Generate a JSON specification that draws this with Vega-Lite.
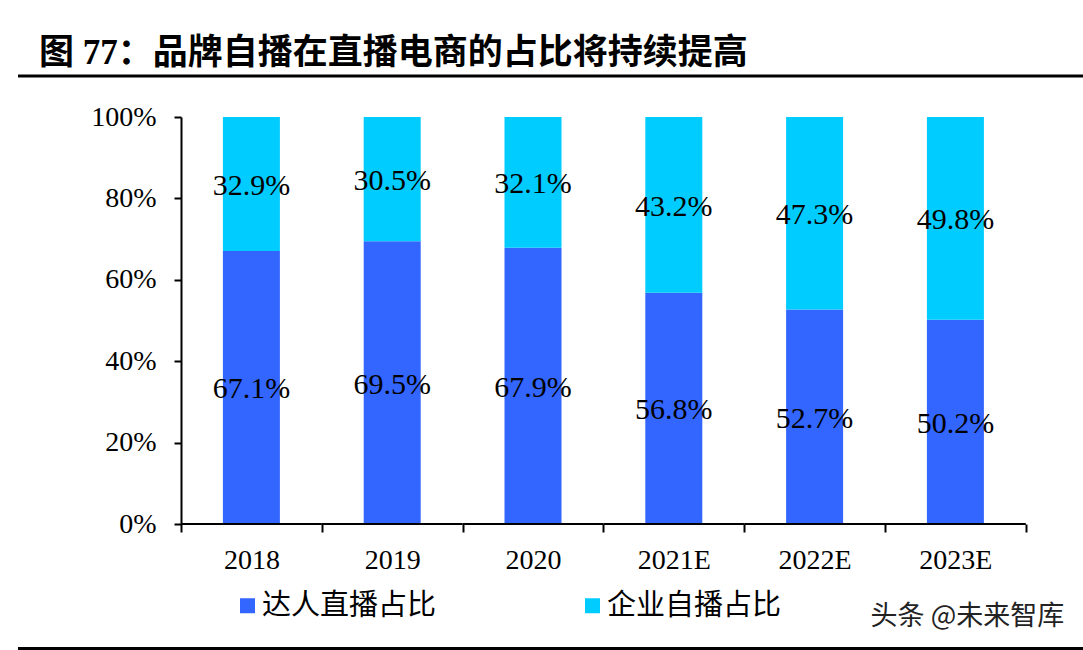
{
  "$schema": "https://vega.github.io/schema/vega-lite/v6.json",
  "width": 1067,
  "height": 407,
  "padding": {"left": 16, "top": 36, "right": 0, "bottom": 0},
  "autosize": {"type": "pad"},
  "background": "white",
  "config": {"view": {"stroke": null}, "font": "Liberation Serif"},
  "title": {
    "text": "图 77：品牌自播在直播电商的占比将持续提高",
    "anchor": "start",
    "frame": "group",
    "dx": 21,
    "font": "Liberation Serif, Noto Sans CJK SC",
    "fontSize": 35,
    "fontWeight": "bold",
    "color": "black",
    "offset": 3
  },
  "datasets": {
    "shares": [
      {"year": "2018", "series": "达人直播占比", "k": 1, "p": 0.671},
      {"year": "2018", "series": "企业自播占比", "k": 2, "p": 0.329},
      {"year": "2019", "series": "达人直播占比", "k": 1, "p": 0.695},
      {"year": "2019", "series": "企业自播占比", "k": 2, "p": 0.305},
      {"year": "2020", "series": "达人直播占比", "k": 1, "p": 0.679},
      {"year": "2020", "series": "企业自播占比", "k": 2, "p": 0.321},
      {"year": "2021E", "series": "达人直播占比", "k": 1, "p": 0.568},
      {"year": "2021E", "series": "企业自播占比", "k": 2, "p": 0.432},
      {"year": "2022E", "series": "达人直播占比", "k": 1, "p": 0.527},
      {"year": "2022E", "series": "企业自播占比", "k": 2, "p": 0.473},
      {"year": "2023E", "series": "达人直播占比", "k": 1, "p": 0.502},
      {"year": "2023E", "series": "企业自播占比", "k": 2, "p": 0.498}
    ]
  },
  "data": {"values": [{}]},
  "layer": [
    {
      "layer": [
        {
          "data": {"name": "shares"},
          "mark": {"type": "bar", "width": 57},
          "encoding": {
            "x": {
              "field": "year", "type": "nominal", "sort": null,
              "scale": {"paddingInner": 0, "paddingOuter": 0.789, "align": 0.7336},
              "axis": {
                "title": null, "labelAngle": 0, "labelFont": "Liberation Serif", "labelFontSize": 28,
                "labelColor": "black", "labelPadding": 14, "tickBand": "extent", "tickSize": 8,
                "tickWidth": 2, "tickColor": "black", "domain": false, "grid": false
              }
            },
            "y": {
              "field": "p", "type": "quantitative", "stack": "zero",
              "scale": {"domain": [0, 1]},
              "axis": {
                "title": null, "values": [0, 0.2, 0.4, 0.6, 0.8, 1], "format": ".0%", "offset": -163,
                "labelFont": "Liberation Serif", "labelFontSize": 28, "labelColor": "black",
                "labelPadding": 18, "tickSize": 7, "tickWidth": 2, "tickColor": "black",
                "domainColor": "black", "domainWidth": 2, "grid": false
              }
            },
            "color": {
              "field": "series", "type": "nominal",
              "scale": {"domain": ["达人直播占比", "企业自播占比"], "range": ["#3366FF", "#00CCFF"]},
              "legend": {
                "orient": "none", "legendX": 215, "legendY": 474, "direction": "horizontal",
                "title": null, "symbolType": "square", "symbolSize": 225, "symbolStrokeWidth": 0,
                "symbolOpacity": 1, "labelFont": "Noto Sans CJK SC", "labelFontSize": 29,
                "labelColor": "black", "labelOffset": 0, "columnPadding": 141, "labelLimit": 400
              }
            },
            "order": {"field": "k", "type": "quantitative"}
          }
        },
        {
          "data": {"name": "shares"},
          "transform": [
            {"stack": "p", "groupby": ["year"], "sort": [{"field": "k", "order": "ascending"}], "as": ["p0", "p1"]},
            {"calculate": "(datum.p0 + datum.p1) / 2", "as": "mid"}
          ],
          "mark": {"type": "text", "font": "Liberation Serif", "fontSize": 30, "color": "black", "baseline": "middle", "dy": 2},
          "encoding": {
            "x": {"field": "year", "type": "nominal", "sort": null, "axis": {"title": null}},
            "y": {"field": "mid", "type": "quantitative", "axis": {"title": null}},
            "text": {"field": "p", "type": "quantitative", "format": ".1%"}
          }
        },
        {
          "data": {"name": "shares"},
          "transform": [{"filter": "datum.k == 1"}],
          "mark": {"type": "bar", "color": "black"},
          "encoding": {
            "x": {"field": "year", "type": "nominal", "sort": null, "axis": {"title": null}},
            "y": {"datum": 0.0025},
            "y2": {"datum": -0.0025}
          }
        },
        {
          "data": {"values": [{"label": "头条 @未来智库"}]},
          "mark": {"type": "text", "font": "Noto Sans CJK SC", "fontSize": 27, "color": "#222222", "align": "center", "baseline": "middle", "dx": 12},
          "encoding": {
            "x": {"datum": "2023E", "type": "nominal"},
            "y": {"datum": -0.228},
            "text": {"field": "label", "type": "nominal"}
          }
        }
      ]
    },
    {
      "mark": {"type": "rule", "color": "black", "strokeWidth": 3},
      "encoding": {
        "x": {"datum": 0, "type": "quantitative", "scale": {"domain": [0, 1]}, "axis": null},
        "x2": {"datum": 1},
        "y": {"datum": 1.101}
      }
    },
    {
      "mark": {"type": "rule", "color": "black", "strokeWidth": 3},
      "encoding": {
        "x": {"datum": 0, "type": "quantitative", "scale": {"domain": [0, 1]}, "axis": null},
        "x2": {"datum": 1},
        "y": {"datum": -0.306}
      }
    }
  ],
  "resolve": {"scale": {"x": "independent"}}
}
